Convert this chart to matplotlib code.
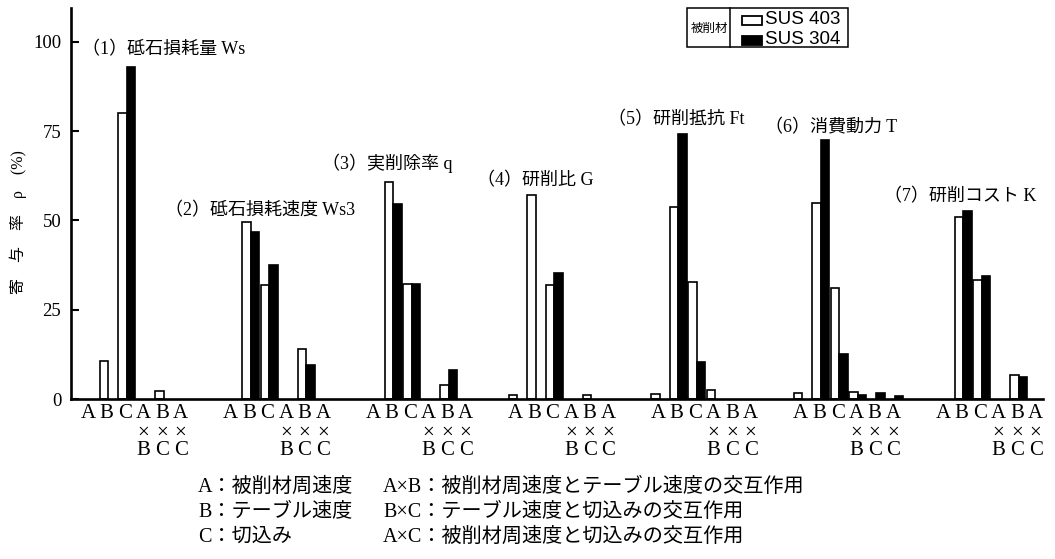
import matplotlib
matplotlib.use("Agg")
import matplotlib.pyplot as plt
import numpy as np
from matplotlib.lines import Line2D
from matplotlib.patches import Rectangle

# factor labels; interactions get "×" and the second factor underneath
FACTOR_TOP = ["A", "B", "C", "A", "B", "A"]
FACTOR_BOT = ["", "", "", "B", "C", "C"]

GROUP_TITLES = [
    "（1）砥石損耗量 Ws",
    "（2）砥石損耗速度 Ws3",
    "（3）実削除率 q",
    "（4）研削比 G",
    "（5）研削抵抗 Ft",
    "（6）消費動力 T",
    "（7）研削コスト K",
]

# contribution ratio (%) per factor: A, B, C, AxB, BxC, AxC
ws_403 = [0, 10.7, 80.0, 0, 2.2, 0]
ws_304 = [0, 0, 93.0, 0, 0, 0]
ws3_403 = [0, 49.5, 32.0, 0, 14.1, 0]
ws3_304 = [0, 46.7, 37.5, 0, 9.5, 0]
q_403 = [0, 60.8, 32.2, 0, 3.8, 0]
q_304 = [0, 54.7, 32.2, 0, 8.0, 0]
g_403 = [1.0, 57.2, 31.9, 0, 1.2, 0]
g_304 = [0, 0, 35.3, 0, 0, 0]
ft_403 = [1.5, 53.7, 32.7, 2.4, 0, 0]
ft_304 = [0, 74.3, 10.5, 0, 0, 0]
t_403 = [1.8, 55.0, 31.0, 2.0, 0, 0]
t_304 = [0, 72.5, 12.5, 1.1, 1.6, 0.9]
k_403 = [0, 51.1, 33.4, 0, 6.7, 0]
k_304 = [0, 52.6, 34.5, 0, 6.3, 0]

SUS403 = [ws_403, ws3_403, q_403, g_403, ft_403, t_403, k_403]
SUS304 = [ws_304, ws3_304, q_304, g_304, ft_304, t_304, k_304]

# where each group title sits (x in slot units, y in %)
TITLE_POS = [(-0.3, 97.8), (4.15, 52.8), (12.65, 66.0), (21.0, 61.2),
             (28.1, 78.1), (36.6, 76.1), (43.0, 56.7)]

LEGEND_NOTES = [
    ("A：被削材周速度", "A×B：被削材周速度とテーブル速度の交互作用"),
    ("B：テーブル速度", "B×C：テーブル速度と切込みの交互作用"),
    ("C：切込み", "A×C：被削材周速度と切込みの交互作用"),
]

SERIF_JP = ["Liberation Serif", "Noto Sans CJK JP"]
GROUP_STEP = 7.7
BAR_W = 0.46
WHITE_OFF = -0.14
BLACK_OFF = 0.32

W, H = 1055, 559


def fx(px):
    return px / W


def fy(py):
    return 1 - py / H


fig = plt.figure(figsize=(W / 100, H / 100), dpi=100)
ax = fig.add_axes([fx(71), fy(399), fx(1043) - fx(71), fy(8) - fy(399)])

for g in range(len(SUS403)):
    xs = g * GROUP_STEP + np.arange(len(FACTOR_TOP))
    white = np.array(SUS403[g], dtype=float)
    black = np.array(SUS304[g], dtype=float)
    m = white > 0
    ax.bar(xs[m] + WHITE_OFF, white[m], width=BAR_W, facecolor="white",
           edgecolor="black", linewidth=1.2, zorder=2)
    m = black > 0
    ax.bar(xs[m] + BLACK_OFF, black[m], width=BAR_W, facecolor="black",
           edgecolor="black", linewidth=1.2, zorder=3)

    for i, x in enumerate(xs):
        ax.annotate(FACTOR_TOP[i], xy=(x, 0), xycoords=("data", "axes fraction"),
                    xytext=(0, -15 * 0.72), textcoords="offset points",
                    ha="center", va="center", fontsize=15,
                    family=SERIF_JP, annotation_clip=False)
        if FACTOR_BOT[i]:
            ax.annotate("×\n" + FACTOR_BOT[i], xy=(x, 0),
                        xycoords=("data", "axes fraction"),
                        xytext=(0, -43 * 0.72), textcoords="offset points",
                        ha="center", va="center", fontsize=15,
                        linespacing=0.85, family=SERIF_JP,
                        annotation_clip=False)

    tx, ty = TITLE_POS[g]
    ax.text(tx, ty, GROUP_TITLES[g], fontsize=13, family=SERIF_JP,
            ha="left", va="center")

ax.set_xlim(-0.92, 51.6)
ax.set_ylim(0, 109.5)
ax.set_xticks([])
ax.set_yticks([0, 25, 50, 75, 100])
ax.tick_params(axis="y", direction="in", length=6, width=1.5, pad=7,
               labelsize=13.5)
for lab in ax.get_yticklabels():
    lab.set_family("Liberation Serif")
for side in ("top", "right"):
    ax.spines[side].set_visible(False)
for side in ("left", "bottom"):
    ax.spines[side].set_linewidth(1.9)

fig.text(fx(18), fy(222), "寄　与　率　ρ　(%)", rotation=90, fontsize=11.5,
         family=SERIF_JP, ha="center", va="center")

# material key in the upper right
fig.add_artist(Rectangle((fx(687), fy(47)), fx(848) - fx(687), fy(8) - fy(47),
                         transform=fig.transFigure, fill=False, lw=1.1))
fig.add_artist(Line2D([fx(730), fx(730)], [fy(47), fy(8)],
                      transform=fig.transFigure, color="black", lw=1.1))
fig.text(fx(709), fy(28), "被削材", fontsize=9, family="Noto Sans CJK JP",
         ha="center", va="center")
for (py, fc, label) in ((20, "white", "SUS 403"), (40, "black", "SUS 304")):
    fig.add_artist(Rectangle((fx(742), fy(py + 4.5)), fx(762) - fx(742), 9 / H,
                             transform=fig.transFigure, facecolor=fc,
                             edgecolor="black", lw=1.3))
    fig.text(fx(765), fy(py), label, fontsize=13.5, family="Liberation Sans",
             ha="left", va="center")

for (left, right), py in zip(LEGEND_NOTES, (487, 512, 537)):
    fig.text(fx(198), fy(py), left, fontsize=14.5, family=SERIF_JP,
             ha="left", va="center")
    fig.text(fx(383), fy(py), right, fontsize=14.5, family=SERIF_JP,
             ha="left", va="center")

fig.savefig("out.png", dpi=100)
